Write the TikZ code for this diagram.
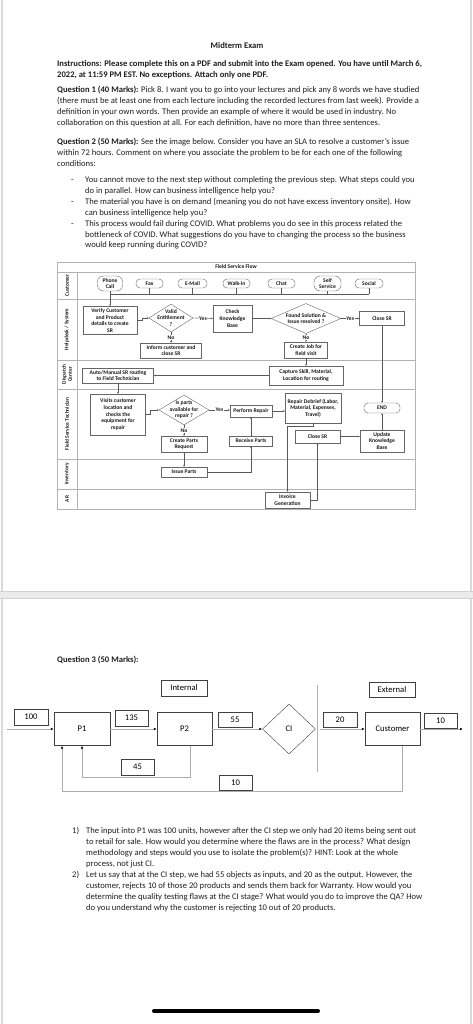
\documentclass[tikz,border=0pt]{standalone}
\usepackage{fontspec}
\setmainfont{Carlito}
\usetikzlibrary{shapes.geometric,arrows.meta}

\newcommand{\bodyfont}{\fontsize{8.6}{10}\selectfont}
\newcommand{\flowfont}{\fontsize{5.6}{6.6}\selectfont\bfseries}
\newcommand{\lanefont}{\fontsize{5.4}{6.2}\selectfont\bfseries}

\tikzset{
  txt/.style={anchor=west,inner sep=0pt,text height=6pt,text depth=2pt,font=\bodyfont,text=black!88},
  lane/.style={draw=gray!60,line width=0.5pt},
  lanelbl/.style={font=\lanefont,rotate=90,align=center,text=black!90,inner sep=0pt},
  sbox/.style={draw=black!60,fill=white,font=\flowfont,align=center,inner sep=0.5pt,text=black!90},
  oval/.style={sbox,rounded corners=4pt},
  dec/.style={diamond,draw=black!60,fill=white,inner sep=0pt},
  dtext/.style={font=\flowfont,align=center,text=black!90,inner sep=0pt},
  conn/.style={draw=black!65,line width=0.4pt},
  flow/.style={conn,-{Stealth[length=2pt,width=1.8pt]}},
  tag/.style={font=\flowfont,fill=white,inner sep=0.5pt,text=black!90},
  pbox/.style={draw=black!75,fill=white,font=\bodyfont,inner sep=0pt},
  pline/.style={draw=gray!65,line width=0.6pt,-{Latex[length=3pt,width=2.5pt,color=black]}},
}

\begin{document}
\begin{tikzpicture}[x=1pt,y=-1pt]
\useasboundingbox (0,0) rectangle (473,1024);
\fill[white] (0,0) rectangle (473,1024);

% page edges
\fill[gray!15] (0,591) rectangle (473,599);
\draw[gray!35,line width=0.6pt] (0,591.3) -- (473,591.3) (0,598.7) -- (473,598.7);
\draw[gray!30,line width=1.2pt] (2,0) -- (2,591) (2,599) -- (2,1024) (471,0) -- (471,591) (471,599) -- (471,1024);

% page 1 text
\node[txt,font=\bodyfont\bfseries,anchor=center] (title) at (237,47) {Midterm Exam};
\foreach \y/\t [count=\i] in {65/{Instructions: Please complete this on a PDF and submit into the Exam opened. You have until March 6,},
  76/{2022, at 11:59 PM EST. No exceptions. Attach only one PDF.}}
  \node[txt,font=\bodyfont\bfseries] (instr\i) at (57,\y) {\t};
\foreach \y/\t [count=\i] in {91/{\textbf{Question 1 (40 Marks):} Pick 8. I want you to go into your lectures and pick any 8 words we have studied},
  101.8/{(there must be at least one from each lecture including the recorded lectures from last week). Provide a},
  112.6/{definition in your own words. Then provide an example of where it would be used in industry. No},
  123.4/{collaboration on this question at all. For each definition, have no more than three sentences.}}
  \node[txt] (qa\i) at (57,\y) {\t};
\foreach \y/\t [count=\i] in {143/{\textbf{Question 2 (50 Marks):} See the image below. Consider you have an SLA to resolve a customer's issue},
  153.8/{within 72 hours. Comment on where you associate the problem to be for each one of the following},
  164.6/{conditions:}}
  \node[txt] (qb\i) at (57,\y) {\t};
\foreach \y in {181,202.6,224.2}
  \node[txt] (dash\y) at (71,\y) {-};
\foreach \y/\t [count=\i] in {181/{You cannot move to the next step without completing the previous step. What steps could you},
  191.8/{do in parallel. How can business intelligence help you?},
  202.6/{The material you have is on demand (meaning you do not have excess inventory onsite). How},
  213.4/{can business intelligence help you?},
  224.2/{This process would fail during COVID. What problems you do see in this process related the},
  235/{bottleneck of COVID. What suggestions do you have to changing the process so the business},
  245.8/{would keep running during COVID?}}
  \node[txt] (cond\i) at (85,\y) {\t};

% field service flow
\draw[lane] (57,262) rectangle (415,509);
\draw[lane] (57,272) -- (415,272);
\foreach \y in {299,360,389,459,489}
  \draw[lane] (57,\y) -- (415,\y);
\draw[lane] (77,272) -- (77,509);
\node[dtext] (fsf) at (236,267) {Field Service Flow};
\node[lanelbl] (lcust) at (67,285.5) {Customer};
\node[lanelbl] (lhelp) at (67,329.5) {Helpdesk / System};
\node[lanelbl] (ldisp) at (67,374.5) {Dispatch\\Center};
\node[lanelbl] (lfst) at (67,424) {Field Service Technician};
\node[lanelbl] (linv) at (67,474) {Inventory};
\node[lanelbl] (lar) at (67,499) {AR};

% customer
\node[oval,rounded corners=6pt,minimum width=25pt,minimum height=15pt] (phone) at (110,283.5) {Phone\\Call};
\node[oval,minimum width=27pt,minimum height=9pt] (fax) at (149.5,283.5) {Fax};
\node[oval,minimum width=29pt,minimum height=9pt] (email) at (192.5,283.5) {E-Mail};
\node[oval,minimum width=27pt,minimum height=9pt] (walk) at (236.5,283.5) {Walk-in};
\node[oval,minimum width=27pt,minimum height=9pt] (chat) at (281.5,283.5) {Chat};
\node[oval,rounded corners=6pt,minimum width=27pt,minimum height=15pt] (self) at (327.5,283.5) {Self\\Service};
\node[oval,minimum width=28pt,minimum height=9pt] (social) at (369,283.5) {Social};
\coordinate (bus) at (0,294);
\foreach \n in {fax,email,walk,chat,self,social}
  \draw[conn] (\n.south) -- (\n.south |- bus);
\draw[conn] (phone.south |- bus) -- (social.south |- bus);

% helpdesk
\node[sbox,minimum width=54pt,minimum height=28pt] (verify) at (110,320.5) {Verify Customer\\and Product\\details to create\\SR};
\node[dec,minimum width=44pt,minimum height=28pt,label={[dtext]center:Valid\\Entitlement\\?}] (valid) at (171,318) {};
\node[sbox,minimum width=39pt,minimum height=27pt] (check) at (232.5,318.5) {Check\\Knowledge\\Base};
\node[dec,minimum width=70pt,minimum height=30pt,label={[dtext]center:Found Solution \&\\Issue resolved ?}] (found) at (306,318.5) {};
\node[sbox,minimum width=45pt,minimum height=14pt] (close1) at (382,318.5) {Close SR};
\node[sbox,minimum width=61pt,minimum height=15pt] (inform) at (171,350.5) {Inform customer and\\close SR};
\node[sbox,minimum width=43pt,minimum height=16pt] (job) at (306,350) {Create Job for\\field visit};
\draw[flow] (phone.south) -- (verify.north);
\draw[flow] (verify.east) -- ++(5,0) |- (valid.west);
\draw[flow] (valid.east) -- node[tag] (yes1) {Yes} (check.west);
\draw[flow] (check.east) -- (check.east -| found.west);
\draw[flow] (found.east) -- node[tag] (yes2) {Yes} (close1.west);
\draw[flow] (valid.south) -- node[tag] (no1) {No} (inform.north);
\draw[flow] (found.south) -- node[tag] (no2) {No} (job.north);

% dispatch
\node[sbox,minimum width=71pt,minimum height=15pt] (route) at (118,375.5) {Auto/Manual SR routing\\to Field Technician};
\node[sbox,minimum width=74pt,minimum height=19pt] (capture) at (306,375.5) {Capture Skill, Material,\\Location for routing};
\draw[flow] (job.south) -- (capture.north);
\draw[flow] (capture.west) -- (route.east);

% field service technician
\node[sbox,minimum width=55pt,minimum height=41pt] (visit) at (118,414.5) {Visits customer\\location and\\checks the\\equipment for\\repair};
\node[dec,minimum width=50pt,minimum height=30pt,label={[dtext]center:Is parts\\available for\\repair ?}] (parts) at (184,410) {};
\node[sbox,minimum width=42pt,minimum height=12pt] (repair) at (251,411) {Perform Repair};
\node[sbox,minimum width=56pt,minimum height=30pt] (debrief) at (313,408) {Repair Debrief (Labor,\\Material, Expenses,\\Travel)};
\node[oval,minimum width=36pt,minimum height=10pt] (end) at (382,408) {END};
\node[sbox,minimum width=45pt,minimum height=13pt] (close2) at (317.5,436.5) {Close SR};
\node[sbox,minimum width=44pt,minimum height=22pt] (update) at (382,441) {Update\\Knowledge\\Base};
\node[sbox,minimum width=46pt,minimum height=16pt] (request) at (184,444) {Create Parts\\Request};
\node[sbox,minimum width=43pt,minimum height=10pt] (receive) at (251,441) {Receive Parts};
\draw[flow] (close1.south) -- (end.north);
\draw[flow] (route.south) -- (visit.north);
\draw[flow] (visit.east) -- ++(4,0) |- (parts.west);
\draw[flow] (parts.east) -- node[tag] (yes3) {Yes} (parts.east -| repair.west);
\draw[flow] (repair.east) -- (repair.east -| debrief.west);
\draw[flow] (parts.south) -- node[tag] (no3) {No} (request.north);
\draw[flow] (receive.north) -- (repair.south);
\draw[flow] (close2.east) -- (close2.east -| update.west);
\draw[flow] (update.north) -- (end.south);

% inventory, AR
\node[sbox,minimum width=46pt,minimum height=10pt] (issue) at (184,472) {Issue Parts};
\node[sbox,minimum width=45pt,minimum height=16pt] (invoice) at (287.5,500) {Invoice\\Generation};
\draw[flow] (request.south) -- (issue.north);
\draw[flow] (issue.east) -| (receive.south);
\draw[flow] (debrief.south) -- ++(0,3) -| (invoice.north);
\draw[flow] (invoice.east) -| (close2.south);

% page 2
\node[txt,font=\bodyfont\bfseries] (q3) at (57,660) {Question 3 (50 Marks):};
\node[pbox,minimum width=46pt,minimum height=16pt] (internal) at (184,688) {Internal};
\node[pbox,minimum width=46pt,minimum height=15pt] (external) at (392,689.5) {External};
\draw[gray!60,line width=0.8pt] (317,685) -- (317,772);
\coordinate (in) at (7,729);
\coordinate (out) at (463,729);
\node[pbox,minimum width=34pt,minimum height=16pt] (n100) at (31,717) {100};
\node[pbox,minimum width=56pt,minimum height=33pt] (p1) at (82,729) {P1};
\node[pbox,minimum width=33pt,minimum height=16pt] (n135) at (131.5,718) {135};
\node[pbox,minimum width=55pt,minimum height=33pt] (p2) at (184.5,729) {P2};
\node[pbox,minimum width=34pt,minimum height=15pt] (n55) at (235,719.5) {55};
\node[pbox,diamond,minimum width=53pt,minimum height=50pt] (ci) at (289,729) {CI};
\node[pbox,minimum width=34pt,minimum height=15pt] (n20) at (340,719.5) {20};
\node[pbox,minimum width=55pt,minimum height=33pt] (cust) at (392.5,729) {Customer};
\node[pbox,minimum width=33pt,minimum height=15pt] (n10a) at (440.5,720.5) {10};
\node[pbox,minimum width=33pt,minimum height=16pt] (n45) at (137.5,767) {45};
\node[pbox,minimum width=33pt,minimum height=15pt] (n10b) at (235.5,782.5) {10};
\draw[pline] (in) -- (p1.west);
\draw[pline] (p1.east) -- (p2.west);
\draw[pline] (p2.east) -- (ci.west);
\draw[pline] ([xshift=4pt]ci.east) -- (cust.west);
\draw[pline] (cust.east) -- (out);
\draw[pline] ([xshift=5.5pt]p2.south) -- ++(0,32) -| (p1.south);
\draw[pline] ([xshift=9.5pt]cust.south) -- ++(0,46) -| ([xshift=-20pt]p1.south);

\node[txt] (item1) at (72,831) {1)};
\node[txt] (item2) at (72,875) {2)};
\foreach \y/\t [count=\i] in {831/{The input into P1 was 100 units, however after the CI step we only had 20 items being sent out},
  842/{to retail for sale. How would you determine where the flaws are in the process? What design},
  853/{methodology and steps would you use to isolate the problem(s)? HINT: Look at the whole},
  864/{process, not just CI.},
  875/{Let us say that at the CI step, we had 55 objects as inputs, and 20 as the output. However, the},
  886/{customer, rejects 10 of those 20 products and sends them back for Warranty. How would you},
  897/{determine the quality testing flaws at the CI stage? What would you do to improve the QA? How},
  908/{do you understand why the customer is rejecting 10 out of 20 products.}}
  \node[txt] (ans\i) at (86,\y) {\t};

% home bar
\draw[line width=4pt,line cap=round] (154,1011) -- (318,1011);
\end{tikzpicture}
\end{document}
